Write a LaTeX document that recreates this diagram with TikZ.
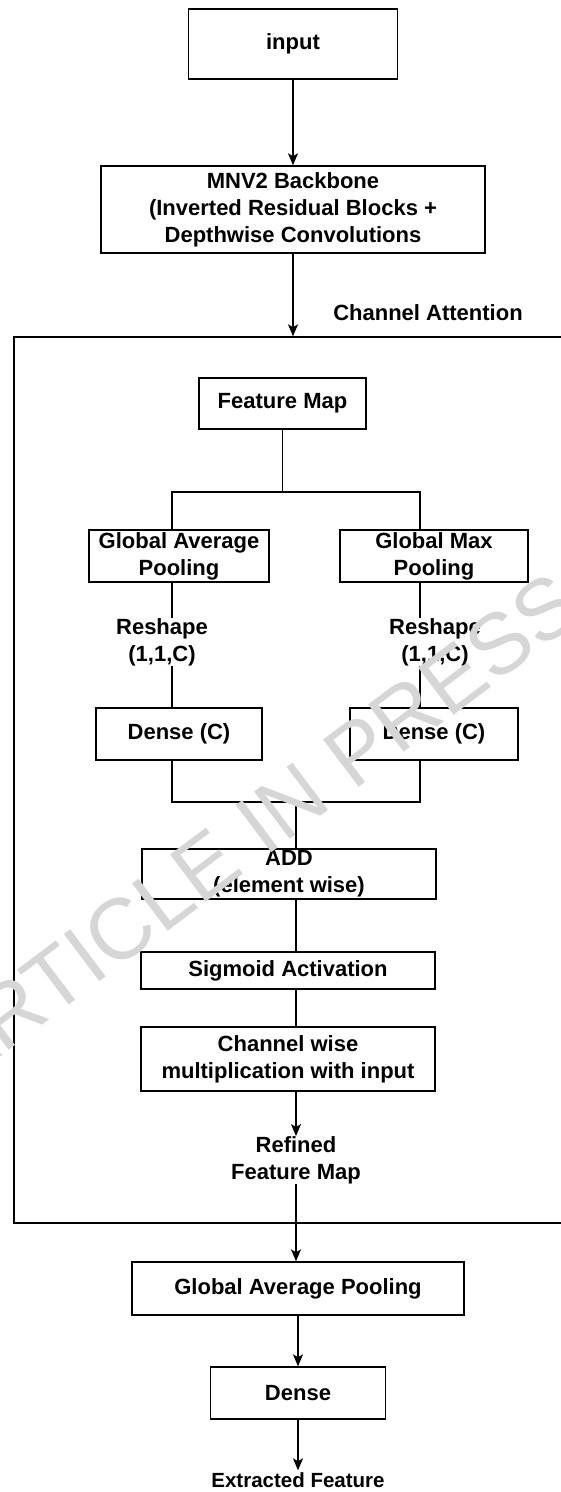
\documentclass[tikz,border=0pt]{standalone}
\usepackage{fontspec}
\setmainfont{Liberation Sans}
\usepackage{xcolor}
\usetikzlibrary{arrows.meta, positioning}
\definecolor{wmGray}{HTML}{D6D6D6}

\begin{document}
\begin{tikzpicture}[
  x=1pt, y=-1pt,
  font=\bfseries\fontsize{22}{27}\selectfont,
  blk/.style={draw, line width=1.4pt, inner sep=0pt, align=center},
  lbl/.style={inner sep=0pt, align=center},
  link/.style={line width=1.3pt},
  arr/.style={line width=1.3pt, -{Stealth[length=12pt, width=10pt, inset=3pt]}},
  wm/.style={font=\mdseries\fontsize{86}{86}\selectfont, text=wmGray, rotate=37, inner sep=0pt},
]
\useasboundingbox (0,0) rectangle (561,1492);
\clip (0,0) rectangle (561,1492);

% ---------------- Eingang ----------------
\node[blk, minimum width=209pt, minimum height=70pt]  (input) at (293,44)    {input};
\node[blk, minimum width=384pt, minimum height=87pt]  (mnv2)  at (293,209.5) {MNV2 Backbone\\(Inverted Residual Blocks +\\Depthwise Convolutions};

% ---------------- Channel Attention ----------------
\node[draw, line width=1.4pt, inner sep=0pt, minimum width=566pt, minimum height=886pt] (ca) at (297,780) {};
\node[lbl] (catt) at (428,313) {Channel Attention};

\node[blk, minimum width=167pt, minimum height=51pt] (fmap) at (282.5,403.5) {Feature Map};
\node[blk, minimum width=180pt, minimum height=52pt] (gap)  at (179,556)     {Global Average\\Pooling};
\node[blk, minimum width=188pt, minimum height=52pt] (gmp)  at (434,556)     {Global Max\\Pooling};
\node[lbl] (rsl) at (162,642) {Reshape\\(1,1,C)};
\node[lbl] (rsr) at (435,642) {Reshape\\(1,1,C)};
\node[blk, minimum width=166pt, minimum height=52pt] (dnl)  at (179,734)     {Dense (C)};
\node[blk, minimum width=168pt, minimum height=52pt] (dnr)  at (434,734)     {Dense (C)};
\node[blk, minimum width=294pt, minimum height=50pt] (add)  at (289,874)     {ADD\\(element wise)};
\node[blk, minimum width=294pt, minimum height=37pt] (sig)  at (288,970.5)   {Sigmoid Activation};
\node[blk, minimum width=294pt, minimum height=64pt] (chw)  at (288,1059)    {Channel wise\\multiplication with input};
\node[lbl] (rfm) at (296,1160) {Refined\\Feature Map};

% ---------------- Ausgang ----------------
\node[blk, minimum width=332pt, minimum height=53pt] (gap2) at (298,1288.5) {Global Average Pooling};
\node[blk, minimum width=175pt, minimum height=52pt] (dns)  at (298,1393)   {Dense};
\node[lbl, inner sep=2pt, font=\bfseries\fontsize{20.5}{25}\selectfont] (xf) at (298,1480) {Extracted Feature};

% Hilfspunkte
\coordinate (lx)  at (172,0);
\coordinate (rx)  at (420,0);
\coordinate (br)  at (282.5,492);
\coordinate (mrg) at (296,802);

% ---------------- Verbindungen ----------------
\draw[arr] (input) -- (mnv2);
\draw[arr] (mnv2.south) -- (mnv2.south |- ca.north);
\draw[link] (fmap.south) -- (br);
\draw[link] (gap.north -| lx) |- (br) -| (gmp.north -| rx);
\draw[link] (gap.south -| lx) -- (lx |- rsl.north);
\draw[link] (lx |- rsl.south) -- (dnl.north -| lx);
\draw[link] (gmp.south -| rx) -- (rx |- rsr.north);
\draw[link] (rx |- rsr.south) -- (dnr.north -| rx);
\draw[link] (dnl.south -| lx) |- (mrg) -| (dnr.south -| rx);
\draw[link] (mrg) -- (add.north -| mrg);
\draw[link] (add.south -| mrg) -- (sig.north -| mrg);
\draw[link] (sig.south -| mrg) -- (chw.north -| mrg);
\draw[arr] (chw.south -| mrg) -- (rfm.north);
\draw[arr] (rfm.south) -- (rfm.south |- gap2.north);
\draw[arr] (gap2) -- (dns);
\draw[arr] (dns) -- (xf);

% Wasserzeichen
\node[wm] (wmark) at (254,829) {ARTICLE IN PRESS};
\end{tikzpicture}
\end{document}
